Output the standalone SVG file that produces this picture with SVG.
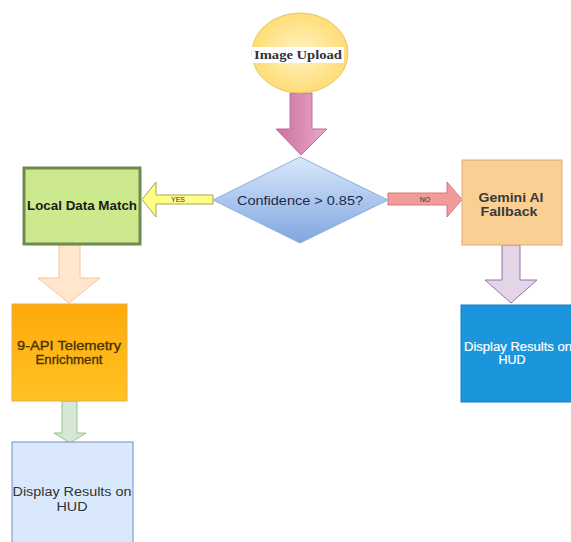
<svg xmlns="http://www.w3.org/2000/svg" width="571" height="542" viewBox="0 0 571 542">
<defs>
<radialGradient id="gY" cx="0.5" cy="0.5" r="0.6">
<stop offset="0" stop-color="#fff3c4"/>
<stop offset="1" stop-color="#ffd966"/>
</radialGradient>
<linearGradient id="gPink" x1="0" y1="0" x2="1" y2="0">
<stop offset="0" stop-color="#cd6fa0"/>
<stop offset="1" stop-color="#e8a9c8"/>
</linearGradient>
<linearGradient id="gDia" x1="0" y1="0" x2="0" y2="1">
<stop offset="0" stop-color="#dae8fc"/>
<stop offset="1" stop-color="#7ea6e0"/>
</linearGradient>
<linearGradient id="gOr" x1="0" y1="0" x2="0" y2="1">
<stop offset="0" stop-color="#ffa90a"/>
<stop offset="1" stop-color="#ffc324"/>
</linearGradient>
</defs>
<style>
.t{font-family:"Liberation Sans",Arial,sans-serif;text-anchor:middle}
.b{font-weight:bold}
.arr{stroke-width:1}
</style>
<rect width="571" height="542" fill="#ffffff"/>
<g id="connectors">
<polygon class="arr" points="290,93 312,93 312,129 327,129 301,155 276,129 290,129" fill="url(#gPink)" stroke="#b5739d"/>
<polygon class="arr" points="213,195 156,195 156,182 142,199.5 156,217 156,204 213,204" fill="#ffff88" stroke="#a6a64a"/>
<text class="t" x="178" y="202" font-size="7" fill="#333">YES</text>
<polygon class="arr" points="388,193 447,193 447,182 462,199.5 447,217 447,205 388,205" fill="#f19c99" stroke="#d07a77"/>
<text class="t" x="425" y="202" font-size="7" fill="#333">NO</text>
<polygon class="arr" points="59,245 80,245 80,278 100,278 69,303 38,278 59,278" fill="#ffe6cc" stroke="#f0c89a"/>
<polygon class="arr" points="62,401 77,401 77,433 86,433 70,443 54,433 62,433" fill="#d5e8d4" stroke="#9cc08a"/>
<polygon class="arr" points="502,245 520,245 520,280 537,280 511,303 485,280 502,280" fill="#e1d5e7" stroke="#9673a6"/>
</g>
<g id="image-upload">
<ellipse cx="300" cy="53" rx="48" ry="40" fill="url(#gY)" stroke="#e3c56a"/>
<rect x="252" y="47" width="92" height="16" fill="#ffffff"/>
<text x="298" y="59" font-family="Liberation Serif,serif" font-weight="bold" font-size="13" text-anchor="middle" fill="#333" textLength="88" lengthAdjust="spacingAndGlyphs">Image Upload</text>
</g>
<g id="confidence">
<polygon points="300,157 388,200 300,243 213,200" fill="url(#gDia)" stroke="#8fb0dc"/>
<text class="t" x="300" y="204.5" font-size="12.5" fill="#1c2a4a" textLength="126" lengthAdjust="spacingAndGlyphs">Confidence &gt; 0.85?</text>
</g>
<g id="local-data-match">
<rect x="24" y="168" width="116" height="76" fill="#cde98e" stroke="#6f8a4e" stroke-width="3"/>
<text class="t b" x="82" y="209.5" font-size="12.5" fill="#1a1a1a" textLength="110" lengthAdjust="spacingAndGlyphs">Local Data Match</text>
</g>
<g id="gemini">
<rect x="462" y="160" width="100" height="85" fill="#f9cf93" stroke="#e0a877"/>
<text class="t b" x="511" y="202" font-size="12.5" fill="#3a3a3a" textLength="65" lengthAdjust="spacingAndGlyphs">Gemini AI</text>
<text class="t b" x="509" y="215.5" font-size="12.5" fill="#3a3a3a" textLength="57" lengthAdjust="spacingAndGlyphs">Fallback</text>
</g>
<g id="telemetry">
<rect x="12" y="304" width="115" height="97" fill="url(#gOr)" stroke="#e6b040"/>
<text class="t" x="69" y="350" font-size="13" fill="#4a3400" stroke="#4a3400" stroke-width="0.35" textLength="104" lengthAdjust="spacingAndGlyphs">9-API Telemetry</text>
<text class="t" x="69" y="364" font-size="13" fill="#4a3400" stroke="#4a3400" stroke-width="0.35" textLength="67" lengthAdjust="spacingAndGlyphs">Enrichment</text>
</g>
<g id="display-right">
<rect x="461" y="305" width="115" height="97" fill="#1b95dc" stroke="#1380c0"/>
<text class="t" x="518" y="351" font-size="12" fill="#ffffff" stroke="#ffffff" stroke-width="0.2" textLength="108" lengthAdjust="spacingAndGlyphs">Display Results on</text>
<text class="t" x="512" y="364" font-size="12" fill="#ffffff" stroke="#ffffff" stroke-width="0.2" textLength="27" lengthAdjust="spacingAndGlyphs">HUD</text>
</g>
<g id="display-left">
<rect x="12" y="442" width="121" height="105" fill="#dae8fc" stroke="#6c8ebf"/>
<text class="t" x="72" y="496" font-size="12.5" fill="#333" textLength="119" lengthAdjust="spacingAndGlyphs">Display Results on</text>
<text class="t" x="72" y="511" font-size="12.5" fill="#333" textLength="31" lengthAdjust="spacingAndGlyphs">HUD</text>
</g>
</svg>
